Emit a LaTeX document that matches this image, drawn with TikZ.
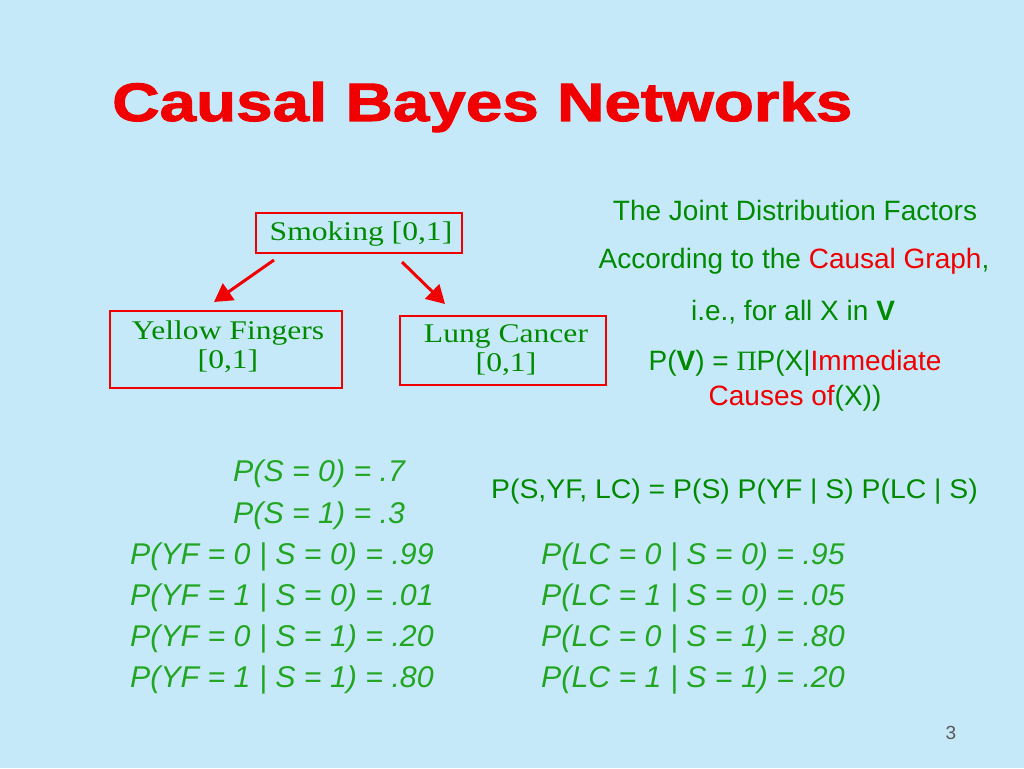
\documentclass[tikz,border=0pt]{standalone}
\usepackage{fontspec}
\setmainfont{Liberation Sans}
\newfontfamily\titlefont[FakeBold=2,FakeStretch=1.215]{Liberation Sans Bold}
\newfontfamily\boxfont[FakeStretch=1.17]{Liberation Serif}
\newfontfamily\symfont{Liberation Serif}
\newfontfamily\eqfont[FakeStretch=1.05]{Liberation Sans}
\newfontfamily\itfont[FakeStretch=1.01]{Liberation Sans Italic}
\usetikzlibrary{arrows.meta,calc}
\definecolor{bg}{HTML}{C6E9FA}
\definecolor{dgreen}{HTML}{008A00}
\definecolor{lgreen}{HTML}{22A622}
\definecolor{myred}{HTML}{F00000}
\tikzset{
  varbox/.style={draw=myred, line width=2.6pt, inner sep=0pt},
  boxtext/.style={text=dgreen, align=center, inner sep=0pt,
    font=\boxfont\fontsize{27}{29}\selectfont},
  causal/.style={draw=myred, line width=3pt, -{Triangle[length=18pt,width=20pt]}},
  rtext/.style={text=dgreen, anchor=center, inner sep=0pt, font=\fontsize{28}{30}\selectfont},
  prob/.style={text=lgreen, anchor=west, inner sep=0pt, font=\itfont\fontsize{30}{32}\selectfont},
}
\begin{document}
\begin{tikzpicture}[x=1pt,y=-1pt]
\fill[bg] (0,0) rectangle (1024,768);
\useasboundingbox (0,0) rectangle (1024,768);

\node[anchor=west, inner sep=0pt, text=myred, font=\titlefont\fontsize{54}{60}\selectfont] (title) at (112,107) {Causal Bayes Networks};

\node[varbox, minimum width=206pt, minimum height=40pt] (smk) at (359,233) {};
\node[boxtext] (smkt) at (361,234) {Smoking [0,1]};
\node[varbox, minimum width=232pt, minimum height=77pt] (yf) at (226,349.5) {};
\node[boxtext] (yft) at (228,347) {Yellow Fingers\\{}[0,1]};
\node[varbox, minimum width=206pt, minimum height=69pt] (lc) at (503,350.5) {};
\node[boxtext] (lct) at (506,350) {Lung Cancer\\{}[0,1]};

\coordinate (a1s) at (274,260);
\coordinate (a1e) at (214,302);
\coordinate (a2s) at (402,262);
\coordinate (a2e) at (445,304);
\draw[causal] (a1s) -- (a1e);
\draw[causal] (a2s) -- (a2e);

\node[rtext] (r1) at (795,210) {The Joint Distribution Factors};
\node[rtext] (r2) at (794,261) {According to the \textcolor{myred}{Causal Graph},};
\node[rtext] (r3) at (793,312) {i.e., for all X in \textbf{V}};
\node[rtext] (r4) at (795,363) {P(\textbf{V}) = {\symfont Π}P(X|\textcolor{myred}{Immediate}};
\node[rtext] (r5) at (795,398) {\textcolor{myred}{Causes of}(X))};

\node[text=dgreen, anchor=west, inner sep=0pt, font=\eqfont\fontsize{27}{29}\selectfont] (joint) at (491,492) {P(S,YF, LC) = P(S) P(YF | S) P(LC | S)};

\node[prob] (ps0) at (233,474) {P(S = 0) = .7};
\node[prob] (ps1) at (233,516) {P(S = 1) = .3};
\node[prob] (y1) at (130,557) {P(YF = 0 | S = 0) = .99};
\node[prob] (y2) at (130,598) {P(YF = 1 | S = 0) = .01};
\node[prob] (y3) at (130,639) {P(YF = 0 | S = 1) = .20};
\node[prob] (y4) at (130,680) {P(YF = 1 | S = 1) = .80};
\node[prob] (l1) at (541,557) {P(LC = 0 | S = 0) = .95};
\node[prob] (l2) at (541,598) {P(LC = 1 | S = 0) = .05};
\node[prob] (l3) at (541,639) {P(LC = 0 | S = 1) = .80};
\node[prob] (l4) at (541,680) {P(LC = 1 | S = 1) = .20};

\node[text=black!65, inner sep=0pt, font=\fontsize{19}{21}\selectfont] (pg) at (951,733) {3};
\end{tikzpicture}
\end{document}
